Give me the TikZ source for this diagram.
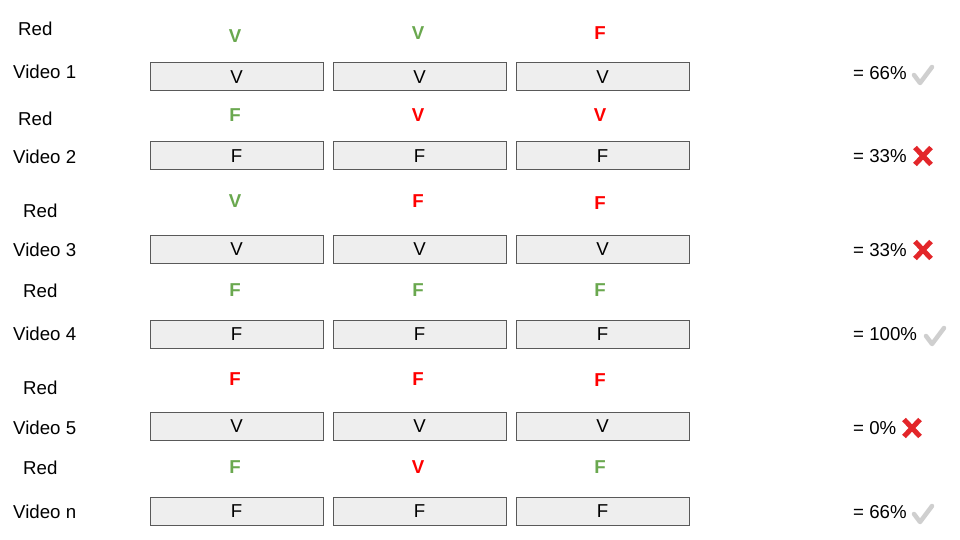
\documentclass[tikz,border=0pt]{standalone}
\usepackage{fontspec}
\setmainfont{Liberation Sans}
\usepackage{tikz}

\definecolor{okgreen}{HTML}{6AA84F}
\definecolor{badred}{HTML}{FF0000}
\definecolor{boxfill}{HTML}{EEEEEE}
\definecolor{boxline}{HTML}{595959}
\definecolor{crossred}{HTML}{E3262A}
\definecolor{tickgray}{HTML}{CFCFCF}
\newcommand{\slidefont}{\fontsize{18.67}{22}\selectfont}

\tikzset{
    answer/.style={draw=boxline, fill=boxfill, line width=1pt, minimum width=173pt, minimum height=28pt, inner sep=0pt, font=\slidefont},
    label/.style={anchor=west, inner sep=0pt, font=\slidefont},
    right/.style={okgreen, inner sep=0pt, font=\slidefont\bfseries},
    wrong/.style={badred, inner sep=0pt, font=\slidefont\bfseries},
    tick/.pic={\draw[tickgray, line width=4.5pt, line cap=round, line join=round] (-9,0) -- (-3,8) -- (9,-8);},
    cross/.pic={\draw[crossred, line width=5pt] (-8,-8.5) -- (8,8.5) (-8,8.5) -- (8,-8.5);}
}

\begin{document}
\begin{tikzpicture}[x=1pt, y=-1pt]
        \useasboundingbox (0,0) rectangle (960,540);

        % Video 1
        \node[label] (red1) at (18, 29) {Red};
        \node[right] (g11) at (235, 36) {V};
        \node[right] (g12) at (418, 33) {V};
        \node[wrong] (g13) at (600, 33) {F};
        \node[label] (vid1) at (13, 72) {Video 1};
        \node[answer] (a11) at (236.5, 77) {V};
        \node[answer] (a12) at (419.5, 77) {V};
        \node[answer] (a13) at (602.5, 77) {V};
        \node[label] (score1) at (853, 73) {= 66\%};
        \pic at (923, 75) {tick};

        % Video 2
        \node[label] (red2) at (18, 119) {Red};
        \node[right] (g21) at (235, 115) {F};
        \node[wrong] (g22) at (418, 115) {V};
        \node[wrong] (g23) at (600, 115) {V};
        \node[label] (vid2) at (13, 157) {Video 2};
        \node[answer] (a21) at (236.5, 156) {F};
        \node[answer] (a22) at (419.5, 156) {F};
        \node[answer] (a23) at (602.5, 156) {F};
        \node[label] (score2) at (853, 156) {= 33\%};
        \pic at (923, 156) {cross};

        % Video 3
        \node[label] (red3) at (23, 211) {Red};
        \node[right] (g31) at (235, 201) {V};
        \node[wrong] (g32) at (418, 201) {F};
        \node[wrong] (g33) at (600, 203) {F};
        \node[label] (vid3) at (13, 250) {Video 3};
        \node[answer] (a31) at (236.5, 249) {V};
        \node[answer] (a32) at (419.5, 249) {V};
        \node[answer] (a33) at (602.5, 249) {V};
        \node[label] (score3) at (853, 250) {= 33\%};
        \pic at (923, 250) {cross};

        % Video 4
        \node[label] (red4) at (23, 291) {Red};
        \node[right] (g41) at (235, 290) {F};
        \node[right] (g42) at (418, 290) {F};
        \node[right] (g43) at (600, 290) {F};
        \node[label] (vid4) at (13, 334) {Video 4};
        \node[answer] (a41) at (236.5, 334) {F};
        \node[answer] (a42) at (419.5, 334) {F};
        \node[answer] (a43) at (602.5, 334) {F};
        \node[label] (score4) at (853, 334) {= 100\%};
        \pic at (935, 336) {tick};

        % Video 5
        \node[label] (red5) at (23, 388) {Red};
        \node[wrong] (g51) at (235, 379) {F};
        \node[wrong] (g52) at (418, 379) {F};
        \node[wrong] (g53) at (600, 380) {F};
        \node[label] (vid5) at (13, 428) {Video 5};
        \node[answer] (a51) at (236.5, 426.5) {V};
        \node[answer] (a52) at (419.5, 426.5) {V};
        \node[answer] (a53) at (602.5, 426.5) {V};
        \node[label] (score5) at (853, 428) {= 0\%};
        \pic at (912, 428) {cross};

        % Video n
        \node[label] (red6) at (23, 468) {Red};
        \node[right] (g61) at (235, 467) {F};
        \node[wrong] (g62) at (418, 467) {V};
        \node[right] (g63) at (600, 467) {F};
        \node[label] (vid6) at (13, 512) {Video n};
        \node[answer] (a61) at (236.5, 511) {F};
        \node[answer] (a62) at (419.5, 511) {F};
        \node[answer] (a63) at (602.5, 511) {F};
        \node[label] (score6) at (853, 512) {= 66\%};
        \pic at (923, 514) {tick};
    \end{tikzpicture}
\end{document}
